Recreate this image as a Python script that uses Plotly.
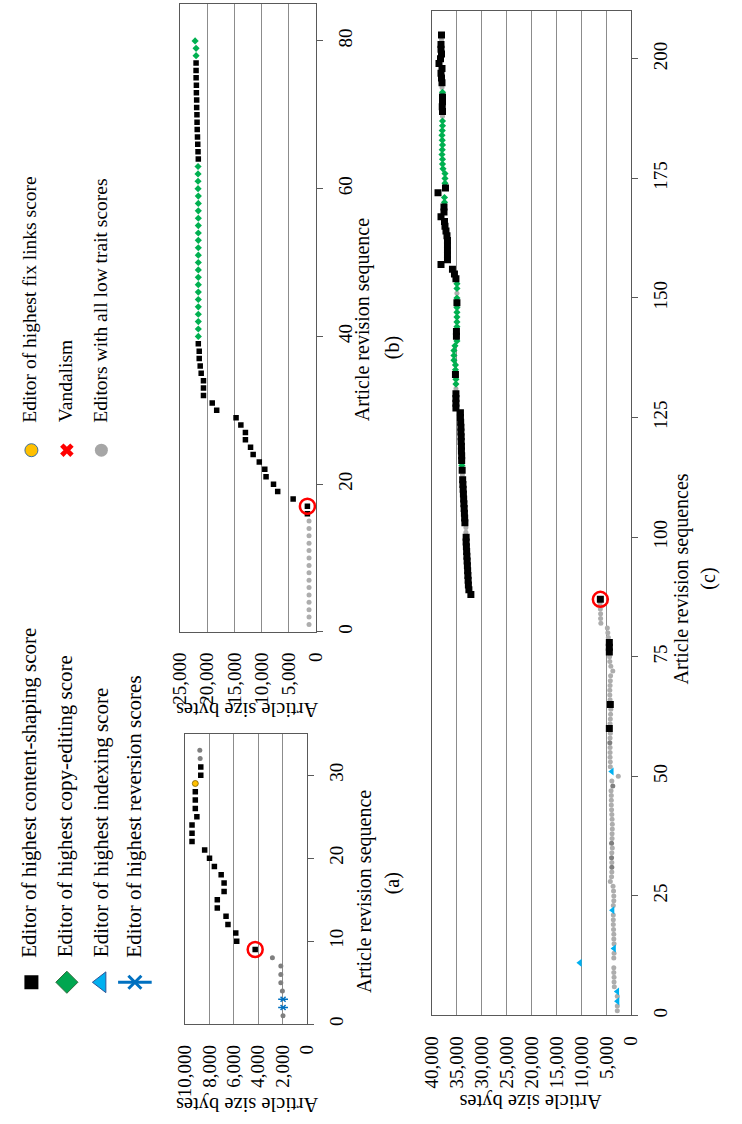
import plotly.graph_objects as go

W, H = 742, 1124
FONT = "Liberation Serif"

# ---------------- data ----------------
# Panel (a): revision number, article size (bytes), editor class
rev_a = list(range(1, 34))
size_a = [1950, 1944, 1944, 2000, 2130, 2130, 2130, 2824, 4240, 5760,
          5840, 6480, 6640, 7360, 7360, 6800, 6800, 7040, 7600, 8000,
          8400, 9440, 9440, 9440, 9040, 9170, 9170, 9170, 9170, 8720,
          8720, 8770, 8800]
kind_a = ["lo2", "rv", "rv", "lo2", "lo2", "lo2", "lo2", "lo2", "cs", "cs",
          "cs", "cs", "cs", "cs", "cs", "cs", "cs", "cs", "cs", "cs",
          "cs", "cs", "cs", "cs", "cs", "cs", "cs", "cs", "fl", "cs",
          "cs", "lo2", "lo2"]
circled_a = [9]

# Panel (b)
rev_b = list(range(1, 81))
size_b = ([1300] * 15 +
          [1600, 1600, 4220, 7060, 7830, 9200, 9430, 10440, 11570, 12050,
           12990, 12990, 13830, 14710, 18270, 19090, 20700, 20700, 20700, 21120,
           21300, 21480, 21480, 21650] +
          [21650, 21650, 21650, 21650, 21650, 21650, 21650, 21650, 21650, 21650,
           21650, 21650, 21650, 21650, 21650, 21650, 21650, 21650, 21650, 21650,
           21700, 21700, 21700, 21700] +
          [21650, 21700, 21750, 21800, 21850, 21880, 21900, 21950, 21950, 22000,
           22000, 22050, 22060, 22060] +
          [22060, 22060, 22240])
kind_b = (["lo"] * 15 + ["cs"] * 24 + ["ce"] * 24 + ["cs"] * 14 + ["ce"] * 3)
circled_b = [17]

# Panel (c)
rev_c = list(range(1, 206))
size_c = [
    2800, 2800, 2750, 2800, 2800, 3400, 3450, 3450, 3500, 3500,
    10300, 3500, 3450, 3450, 3450, 3500, 3500, 3550, 3600, 3600,
    3600, 3750, 3600, 3500, 3500, 3550, 3650, 4200, 3950, 3900,
    3900, 3900, 3950, 3900, 3800, 3950, 3850, 3850, 3800, 3800,
    3850, 3900, 3950, 4000, 4000, 4000, 4050, 3700, 3900, 2600,
    3900, 4200, 4200, 4250, 4250, 4250, 4300, 4250, 4200, 4400,
    4250, 4200, 4150, 4100, 4200, 4250, 4300, 4300, 4250, 4200,
    4150, 3700, 4100, 4300, 4350, 4400, 4400, 4400, 4600, 4700,
    4800, 6100, 6150, 6150, 6200, 6250, 6200, 32200, 32600, 32700,
    32750, 32800, 32850, 32900, 32950, 33000, 33050, 33100, 33150, 33150,
    33200, 33200, 33400, 33450, 33500, 33550, 33600, 33650, 33700, 33750,
    33800, 33850, 33900, 33950, 34000, 34050, 34050, 34100, 34100, 34150,
    34150, 34200, 34200, 34250, 34300, 34300, 35200, 35200, 35200, 35200,
    35200, 35200, 35200, 35300, 35300, 35300, 35600, 35600, 35600, 35400,
    35000, 35100, 35100, 35000, 35000, 35000, 35000, 35000, 35000, 35000,
    35000, 35000, 35000, 35200, 35500, 35900, 38200, 36900, 36900, 36900,
    36900, 36900, 37000, 37200, 37400, 37500, 38200, 37600, 37600, 37500,
    37500, 38800, 37300, 37400, 37400, 37400, 37800, 37900, 37900, 38000,
    37950, 37900, 37950, 38000, 37950, 37900, 37900, 37900, 37900, 37950,
    37900, 37900, 37900, 38000, 38000, 38100, 38200, 38000, 38600, 38300,
    38100, 38200, 38200, 38100, 38100]
kind_c = [
    "lo", "lo", "ix", "lo", "ix", "lo", "lo", "lo", "lo", "lo",
    "ix", "lo", "lo", "ix", "lo", "lo", "lo", "lo", "lo", "lo",
    "lo", "ix", "lo", "lo", "lo", "lo", "lo", "lo", "lo", "lo",
    "lo2", "lo", "lo2", "lo", "lo", "lo2", "lo", "lo", "lo", "lo",
    "lo", "lo", "lo", "lo", "lo", "lo", "lo", "lo2", "lo", "lo",
    "ix", "lo", "lo", "lo", "lo", "lo", "lo2", "lo", "lo", "cs",
    "lo", "lo", "lo", "lo", "cs", "lo", "lo", "lo", "lo", "lo",
    "lo", "lo", "lo", "lo", "lo", "cs", "cs", "cs", "lo", "lo",
    "lo", "lo", "lo", "lo", "lo", "lo", "cs", "cs", "cs", "cs",
    "cs", "cs", "cs", "cs", "cs", "cs", "cs", "cs", "cs", "cs",
    "lo", "lo", "cs", "cs", "cs", "cs", "cs", "cs", "cs", "cs",
    "cs", "cs", "lo", "cs", "ce", "cs", "cs", "cs", "cs", "cs",
    "cs", "cs", "cs", "cs", "cs", "cs", "cs", "cs", "cs", "cs",
    "lo", "ce", "ce", "cs", "ce", "ce", "ce", "ce", "ce", "ce",
    "ce", "cs", "cs", "ce", "ce", "ce", "ce", "ce", "cs", "ce",
    "lo", "ce", "ce", "cs", "cs", "cs", "cs", "cs", "cs", "cs",
    "cs", "cs", "cs", "cs", "cs", "cs", "cs", "cs", "cs", "ce",
    "ce", "cs", "cs", "ce", "ce", "ce", "ce", "ce", "ce", "ce",
    "ce", "ce", "ce", "ce", "ce", "ce", "ce", "lo", "cs", "cs",
    "cs", "cs", "ce", "lo", "cs", "cs", "cs", "cs", "cs", "cs",
    "cs", "cs", "cs", "lo", "cs"]
circled_c = [87]

legend_col1 = ["Editor of highest content-shaping score",
               "Editor of highest copy-editing score",
               "Editor of highest indexing score",
               "Editor of highest reversion scores"]
legend_col2 = ["Editor of highest fix links score",
               "Vandalism",
               "Editors with all low trait scores"]

# ---------------- styles ----------------
STYLE = {
    "cs": dict(symbol="square", color="#000000", size=5.5),
    "ce": dict(symbol="diamond", color="#00B050", size=5.5),
    "ix": dict(symbol="triangle-left", color="#00B0F0", size=7),
    "fl": dict(symbol="circle", color="#FFC000", size=6,
               line=dict(color="#7F6000", width=0.8)),
    "lo": dict(symbol="circle", color="#ADADAD", size=5),
    "lo2": dict(symbol="circle", color="#7F7F7F", size=5),
}

fig = go.Figure()


def px_x(p):
    return p / W


def px_y(p):
    return 1 - p / H


def add_panel(revs, sizes, kinds, circled, xa, ya, sq):
    for k in ["lo", "lo2", "ix", "fl", "ce", "cs", "rv"]:
        xs = [s for s, kk in zip(sizes, kinds) if kk == k]
        ys = [r for r, kk in zip(revs, kinds) if kk == k]
        if not xs:
            continue
        if k == "rv":
            for sym, sz in [("x-thin-open", 5), ("line-ew-open", 7)]:
                fig.add_trace(go.Scatter(
                    x=xs, y=ys, mode="markers", xaxis=xa, yaxis=ya,
                    marker=dict(symbol=sym, size=sz, color="#0070C0",
                                line=dict(color="#0070C0", width=1.5))))
            continue
        st = dict(STYLE[k])
        if k == "cs":
            st["size"] = sq
        fig.add_trace(go.Scatter(x=xs, y=ys, mode="markers",
                                 xaxis=xa, yaxis=ya, marker=st))
    cx = [sizes[revs.index(r)] for r in circled]
    fig.add_trace(go.Scatter(
        x=cx, y=circled, mode="markers", xaxis=xa, yaxis=ya,
        marker=dict(symbol="circle-open", size=15, color="#FF0000",
                    line=dict(color="#FF0000", width=2.5))))


add_panel(rev_a, size_a, kind_a, circled_a, "x", "y", 5.5)
add_panel(rev_b, size_b, kind_b, circled_b, "x2", "y2", 5.5)
add_panel(rev_c, size_c, kind_c, circled_c, "x3", "y3", 7)

# legend glyphs, placed on a full-page pixel axis
LEG1_Y, LEG2_Y = 984, 451
leg_sym = [
    (21, LEG1_Y, dict(symbol="square", size=14, color="#000000")),
    (57.5, LEG1_Y, dict(symbol="diamond", size=17, color="#00A650",
                        line=dict(color="#2E6B3C", width=1))),
    (93, LEG1_Y, dict(symbol="triangle-left", size=18, color="#00B0F0",
                      line=dict(color="#2F5597", width=1))),
    (21, LEG2_Y, dict(symbol="circle", size=13, color="#FFC000",
                      line=dict(color="#41719C", width=1))),
    (57.5, LEG2_Y, dict(symbol="x", size=12, color="#FF0000", line=dict(width=0))),
    (93, LEG2_Y, dict(symbol="circle", size=13, color="#A6A6A6")),
]
for gx, gy, mk in leg_sym:
    fig.add_trace(go.Scatter(x=[gx], y=[gy], mode="markers", xaxis="x4",
                             yaxis="y4", marker=mk))
for sym, sz in [("x-thin-open", 13), ("line-ew-open", 24)]:
    fig.add_trace(go.Scatter(
        x=[127.5], y=[LEG1_Y], mode="markers", xaxis="x4", yaxis="y4",
        marker=dict(symbol=sym, size=sz, color="#0070C0",
                    line=dict(color="#0070C0", width=3))))

annotations = []


def note(text, x, y, angle, xanchor="center", yanchor="middle", size=21):
    annotations.append(dict(
        text=text, xref="paper", yref="paper", x=px_x(x), y=px_y(y),
        textangle=angle, xanchor=xanchor, yanchor=yanchor, showarrow=False,
        font=dict(family=FONT, size=size, color="#000000")))


for i, t in enumerate(legend_col1):
    note(t, [19, 55.5, 92, 127][i], LEG1_Y - 23, -90, yanchor="bottom")
for i, t in enumerate(legend_col2):
    note(t, [19, 55.5, 92][i], LEG2_Y - 26, -90, yanchor="bottom", size=19.5)

note("Article revision sequence", 364, 893, -90, size=20)
note("(a)", 393, 885, -90, size=20)
note("Article revision sequence", 362, 320, -90, size=20)
note("(b)", 393, 348, -90, size=20)
note("Article revision sequences", 691, 580, -90, size=20)
note("(c)", 718, 580, -90, size=20)
note("Article size bytes", 243, 1107, 180, size=20.5)
note("Article size bytes", 243, 711, 180, size=20.5)
note("Article size bytes", 535, 1104, 180, size=20.5)

AX_LINE = "#595959"
GRID = "#8C8C8C"
TICKF = dict(family=FONT, size=19, color="#000000")


def size_axis(x0, x1, top, dtick):
    return dict(domain=[px_x(x0), px_x(x1)], range=[top, 0], dtick=dtick,
                tickformat=",", tickangle=-90, tickfont=TICKF,
                showgrid=True, gridcolor=GRID, gridwidth=1, zeroline=False,
                showline=True, linecolor=AX_LINE, linewidth=1.3, mirror=True,
                ticks="", ticklabelstandoff=12, fixedrange=True)


def rev_axis(y0, y1, top, dtick, anchor):
    return dict(domain=[px_y(y1), px_y(y0)], range=[0, top], dtick=dtick,
                side="right", tickangle=-90, tickfont=TICKF, anchor=anchor,
                showgrid=False, zeroline=False, showline=True,
                linecolor=AX_LINE, linewidth=1.3, mirror=True,
                ticks="outside", ticklen=6, tickcolor=AX_LINE,
                ticklabelstandoff=6, fixedrange=True)


fig.update_layout(
    width=W, height=H, margin=dict(l=0, r=0, t=0, b=0),
    paper_bgcolor="white", plot_bgcolor="rgba(0,0,0,0)", showlegend=False,
    font=dict(family=FONT, size=19, color="#000000"),
    xaxis=dict(size_axis(179.3, 304.3, 10000, 2000), anchor="y"),
    yaxis=rev_axis(735, 1026, 35, 10, "x"),
    xaxis2=dict(size_axis(174, 314, 25000, 5000), anchor="y2"),
    yaxis2=rev_axis(4, 633, 85, 20, "x2"),
    xaxis3=dict(size_axis(433.3, 638.3, 40000, 5000), anchor="y3"),
    yaxis3=rev_axis(11, 1017.3, 210, 25, "x3"),
    xaxis4=dict(domain=[0, 1], range=[0, W], visible=False, anchor="y4",
                fixedrange=True),
    yaxis4=dict(domain=[0, 1], range=[H, 0], visible=False, anchor="x4",
                fixedrange=True),
    annotations=annotations,
)

fig.write_html("out.html")
